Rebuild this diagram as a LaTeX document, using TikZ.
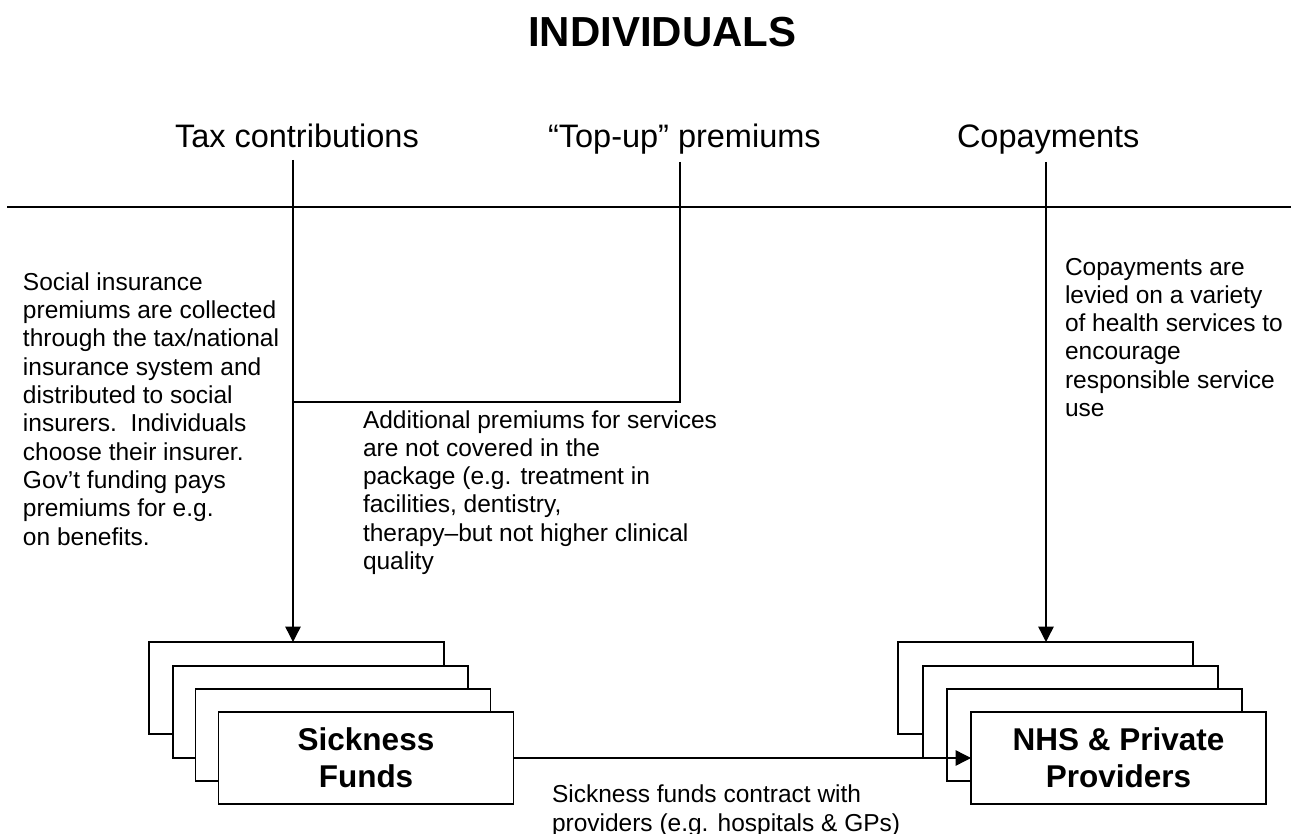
\documentclass[tikz,border=0pt]{standalone}
\usepackage{fontspec}
\setmainfont{Liberation Sans}
\usetikzlibrary{arrows.meta}
\begin{document}
\begin{tikzpicture}[x=1pt,y=-1pt,line width=1.4pt,
  every node/.style={inner sep=0pt,outer sep=0pt},
  note/.style={anchor=base west,align=left,font=\fontsize{24.5}{28.3}\selectfont},
  lbl/.style={anchor=base west,font=\fontsize{32.5}{38}\selectfont},
  fund/.style={draw,fill=white,minimum width=295pt,minimum height=92pt,align=center,
    font=\bfseries\fontsize{31.5}{37}\selectfont},
  flow/.style={-{Triangle[length=15.5pt,width=15.5pt]}}]
\useasboundingbox (0,0) rectangle (1294,834);

% title and source labels
\node[anchor=base west,font=\bfseries\fontsize{42}{48}\selectfont] (title) at (528,47) {INDIVIDUALS};
\node[lbl] (tax) at (175,148) {Tax contributions};
\node[lbl] (topup) at (548,148) {“Top-up” premiums};
\node[lbl] (copay) at (957,148) {Copayments};

% boundary line
\coordinate (hl) at (7,207);
\coordinate (hr) at (1291,207);
\draw (hl) -- (hr);

% stacks
\node[fund] (sf1) at (296.5,688) {};
\node[fund] (sf2) at (320.5,712) {};
\node[fund] (sf3) at (343,735) {};
\node[fund] (sf4) at (366,758) {Sickness\\Funds};
\node[fund] (pp1) at (1045.5,688) {};
\node[fund] (pp2) at (1070.5,712) {};
\node[fund] (pp3) at (1094.5,735) {};
\node[fund] (pp4) at (1118.5,758) {NHS \& Private\\Providers};

% flows
\coordinate (taxtop) at (293,160);
\coordinate (toptop) at (680,162);
\coordinate (join) at (293,402);
\coordinate (coptop) at (1046,162);
\draw[flow] (taxtop) -- (taxtop |- sf1.north);
\draw (toptop) |- (join);
\draw[flow] (coptop) -- (coptop |- pp1.north);
\draw[flow] (sf4.east) -- (pp4.west);

% notes (base anchor = baseline of last line)
\node[note] (n1) at (23,545) {Social insurance\\premiums are collected\\through the tax/national\\insurance system and\\distributed to social\\insurers.\ \ Individuals\\choose their insurer.\\Gov’t funding pays\\premiums for e.g.\\on benefits.};
\node[note] (n2) at (363,569.5) {Additional premiums for services\\are not covered in the\\package (e.g. treatment in\\facilities, dentistry,\\therapy–but not higher clinical\\quality};
\node[note] (n3) at (1065,416.5) {Copayments are\\levied on a variety\\of health services to\\encourage\\responsible service\\use};
\node[note] (n4) at (552,831) {Sickness funds contract with\\providers (e.g. hospitals \& GPs)};
\end{tikzpicture}
\end{document}
